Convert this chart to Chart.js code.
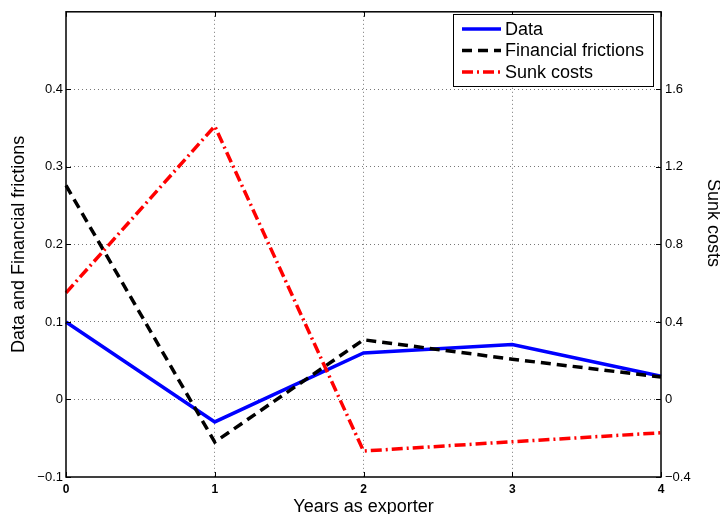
<!DOCTYPE html>
<html>
<head>
<meta charset="utf-8">
<script src="https://cdn.jsdelivr.net/npm/chart.js@4/dist/chart.umd.min.js"></script>
<style>
html, body { margin: 0; padding: 0; background: #fff; }
</style>
</head>
<body>
<canvas id="c" width="720" height="514"></canvas>
<script>
// values
const years = ['0', '1', '2', '3', '4'];
const dataSeries = [0.100, -0.029, 0.060, 0.071, 0.030];
const financialFrictions = [0.276, -0.055, 0.077, 0.052, 0.029];
const sunkCosts = [0.55, 1.41, -0.266, -0.218, -0.172];
const leftTicks = [-0.1, 0, 0.1, 0.2, 0.3, 0.4];
const rightTicks = [-0.4, 0, 0.4, 0.8, 1.2, 1.6];
const rightTitle = 'Sunk costs';

const FONT = "'Liberation Sans', Arial, Helvetica, sans-serif";

function fmt(v) {
	const r = Math.round(v * 10) / 10;
	if (r === 0) return '0';
	return (r < 0 ? '\u2212' : '') + Math.abs(r).toString();
}

function inList(list, v) {
	return list.some(t => Math.abs(t - v) < 1e-6);
}

// box, inward ticks, right label and legend, matlab style
const matlabFrame = {
	id: 'matlabFrame',
	afterDatasetsDraw(chart) {
		const { ctx, chartArea: a, scales } = chart;
		ctx.save();
		ctx.strokeStyle = '#000';
		ctx.lineWidth = 1;
		ctx.setLineDash([]);
		ctx.beginPath();
		const tl = 5;
		leftTicks.forEach(v => {
			const y = Math.round(scales.y.getPixelForValue(v)) + 0.5;
			ctx.moveTo(a.left, y); ctx.lineTo(a.left + tl, y);
		});
		rightTicks.forEach(v => {
			const y = Math.round(scales.y2.getPixelForValue(v)) + 0.5;
			ctx.moveTo(a.right, y); ctx.lineTo(a.right - tl, y);
		});
		years.forEach((_, i) => {
			const x = Math.round(scales.x.getPixelForValue(i)) + 0.5;
			ctx.moveTo(x, a.bottom); ctx.lineTo(x, a.bottom - tl);
			ctx.moveTo(x, a.top); ctx.lineTo(x, a.top + tl);
		});
		ctx.stroke();
		ctx.lineWidth = 1.5;
		ctx.strokeRect(a.left, a.top, a.right - a.left, a.bottom - a.top);

		// right axis label sits a bit above centre in the original
		ctx.save();
		ctx.translate(713, 223);
		ctx.rotate(Math.PI / 2);
		ctx.font = '18px ' + FONT;
		ctx.fillStyle = '#000';
		ctx.textAlign = 'center';
		ctx.textBaseline = 'middle';
		ctx.fillText(rightTitle, 0, 0);
		ctx.restore();

		// legend
		const lx = 453, ly = 14, lw = 200, lh = 72;
		ctx.fillStyle = '#fff';
		ctx.fillRect(lx, ly, lw, lh);
		ctx.strokeStyle = '#000';
		ctx.lineWidth = 1;
		ctx.strokeRect(lx + 0.5, ly + 0.5, lw, lh);
		ctx.font = '18px ' + FONT;
		ctx.textBaseline = 'middle';
		chart.data.datasets.forEach((ds, i) => {
			const y = ly + 15 + i * 21.5;
			ctx.strokeStyle = ds.borderColor;
			ctx.lineWidth = ds.borderWidth;
			ctx.setLineDash(ds.borderDash || []);
			ctx.beginPath();
			ctx.moveTo(lx + 9, y); ctx.lineTo(lx + 48, y);
			ctx.stroke();
			ctx.setLineDash([]);
			ctx.fillStyle = '#000';
			ctx.fillText(ds.label, lx + 52, y + 1);
		});
		ctx.restore();
	}
};

const ctx = document.getElementById('c').getContext('2d');
const chart = new Chart(ctx, {
	type: 'line',
	data: {
		labels: years,
		datasets: [
			{
				label: 'Data',
				data: dataSeries,
				borderColor: '#0000ff',
				borderWidth: 3.5,
				pointRadius: 0,
				tension: 0,
				yAxisID: 'y',
				order: 2,
			},
			{
				label: 'Financial frictions',
				data: financialFrictions,
				borderColor: '#000000',
				borderWidth: 3.5,
				borderDash: [10, 6],
				pointRadius: 0,
				tension: 0,
				yAxisID: 'y',
				order: 1,
			},
			{
				label: 'Sunk costs',
				data: sunkCosts,
				borderColor: '#ff0000',
				borderWidth: 3.5,
				borderDash: [11, 4, 2, 4],
				pointRadius: 0,
				tension: 0,
				yAxisID: 'y2',
				order: 0,
			},
		],
	},
	options: {
		responsive: false,
		animation: false,
		devicePixelRatio: 1,
		layout: { padding: { top: 8, left: 0, right: 0, bottom: 0 } },
		plugins: {
			legend: { display: false },
			tooltip: { enabled: false },
		},
		scales: {
			x: {
				type: 'category',
				offset: false,
				afterFit: s => { s.height = 37; },
				grid: {
					drawTicks: false,
					color: c => (c.index === 0 || c.index === 4) ? 'rgba(0,0,0,0)' : '#777',
					lineWidth: 1,
				},
				border: { display: false, dash: [1, 3] },
				ticks: {
					color: '#000',
					padding: 5,
					maxRotation: 0,
					font: { family: FONT, size: 12, weight: 'bold' },
				},
				title: {
					display: true,
					text: 'Years as exporter',
					color: '#000',
					font: { family: FONT, size: 18, lineHeight: 0.8 },
					padding: { top: 0, bottom: 0 },
				},
			},
			y: {
				position: 'left',
				min: -0.1,
				max: 0.5,
				afterFit: s => { s.width = 66; },
				ticks: {
					stepSize: 0.1,
					color: '#000',
					padding: 3,
					font: { family: FONT, size: 13 },
					callback: v => inList(leftTicks, v) ? fmt(v) : '',
				},
				grid: {
					drawTicks: false,
					color: c => {
						const v = c.tick ? c.tick.value : 0;
						return (v < -0.05 || v > 0.45) ? 'rgba(0,0,0,0)' : '#777';
					},
					lineWidth: 1,
				},
				border: { display: false, dash: [1, 3] },
				title: {
					display: true,
					text: 'Data and Financial frictions',
					color: '#000',
					font: { family: FONT, size: 18 },
					padding: { top: 8, bottom: 0 },
				},
			},
			y2: {
				position: 'right',
				min: -0.4,
				max: 2.0,
				afterFit: s => { s.width = 59; },
				ticks: {
					stepSize: 0.4,
					color: '#000',
					padding: 4,
					font: { family: FONT, size: 13 },
					callback: v => inList(rightTicks, v) ? fmt(v) : '',
				},
				grid: { display: false, drawTicks: false },
				border: { display: false },
			},
		},
	},
	plugins: [matlabFrame],
});
</script>
</body>
</html>
